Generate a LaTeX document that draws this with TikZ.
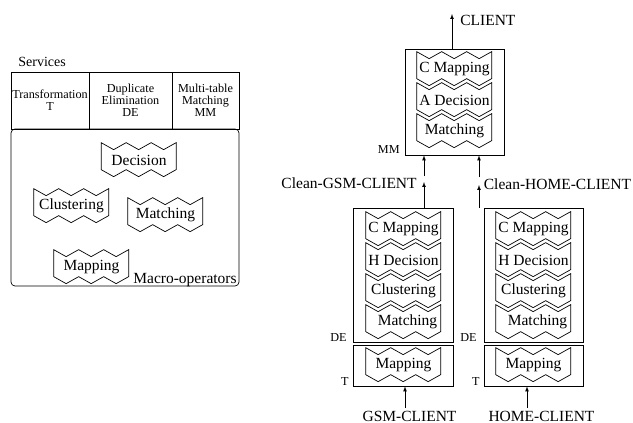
\documentclass[tikz,border=0pt]{standalone}
\usepackage{fontspec}
\setmainfont{Liberation Serif}
\tikzset{
  blk/.style={minimum width=75pt,minimum height=34pt,inner sep=0pt,font=\fontsize{15.5}{18}\selectfont},
  box/.style={draw,inner sep=0pt},
  big/.style={inner sep=0pt,font=\fontsize{15.5}{18}\selectfont},
  small/.style={inner sep=0pt,font=\fontsize{12.2}{12}\selectfont},
}
\begin{document}
\begin{tikzpicture}[x=1pt,y=-1pt,line width=0.7pt,>=latex]
    \useasboundingbox (0,0) rectangle (633,423);
    % services and macro-operators
    \node[anchor=base west,inner sep=0pt,font=\fontsize{14}{14}\selectfont] (services) at (18,66.5) {Services};
    \node[box,small,minimum width=78pt,minimum height=57pt,align=center] (hT) at (50,100.5) {Transformation\\T};
    \node[box,small,minimum width=83pt,minimum height=57pt,align=center] (hDE) at (130.5,100.5) {Duplicate\\Elimination\\DE};
    \node[box,small,minimum width=67pt,minimum height=57pt,align=center] (hMM) at (205.5,100.5) {Multi-table\\Matching\\MM};
    \node[box,rounded corners=4pt,minimum width=228pt,minimum height=157pt] (macro) at (125,207.5) {};
    \node[big,anchor=base east] (macrolbl) at (237,283) {Macro-operators};
    \node[blk] (dec) at (139,160) {Decision};
    \node[blk] (clu) at (71.5,206) {Clustering};
    \node[blk] (mat) at (165.5,215) {Matching};
    \node[blk] (map) at (91.5,267) {Mapping};
    % MM
    \node[box,minimum width=99pt,minimum height=106pt] (mm) at (454.5,102) {};
    \node[blk] (mmC) at (454.5,69) {C Mapping};
    \node[blk] (mmA) at (454.5,100) {A Decision};
    \node[blk] (mmM) at (454.5,131) {Matching};
    \node[small,anchor=base east] (mmlbl) at (400,153) {MM};
    % DE and T, GSM
    \node[box,minimum width=100pt,minimum height=134pt] (deL) at (403,275) {};
    \node[blk] (deLC) at (403.5,229) {C Mapping};
    \node[blk] (deLH) at (403.5,260) {H Decision};
    \node[blk] (deLCl) at (403.5,291) {Clustering};
    \node[blk] (deLM) at (403.5,322) {\hspace*{8pt}Matching};
    \node[small,anchor=base east] (deLlbl) at (347,341) {DE};
    \node[box,minimum width=100pt,minimum height=41pt] (tL) at (403,365.5) {};
    \node[blk] (tLM) at (403.5,365) {Mapping};
    \node[small,anchor=base east] (tLlbl) at (349,385) {T};
    % DE and T, HOME
    \node[box,minimum width=99pt,minimum height=134pt] (deR) at (533.5,275) {};
    \node[blk] (deRC) at (533.5,229) {C Mapping};
    \node[blk] (deRH) at (533.5,260) {H Decision};
    \node[blk] (deRCl) at (533.5,291) {Clustering};
    \node[blk] (deRM) at (533.5,322) {\hspace*{8pt}Matching};
    \node[small,anchor=base east] (deRlbl) at (477,341) {DE};
    \node[box,minimum width=99pt,minimum height=41pt] (tR) at (533.5,365.5) {};
    \node[blk] (tRM) at (533.5,365) {Mapping};
    \node[small,anchor=base east] (tRlbl) at (480,385) {T};
    % flows
    \node[big,anchor=base west] (client) at (460,25) {CLIENT};
    \node[big,anchor=base east] (cleanG) at (417,188.5) {Clean-GSM-CLIENT};
    \node[big,anchor=base west] (cleanH) at (483.5,189.5) {Clean-HOME-CLIENT};
    \node[big,anchor=base] (gsm) at (409.5,421) {GSM-CLIENT};
    \node[big,anchor=base] (home) at (541.5,421) {HOME-CLIENT};
    \coordinate (outC) at (452,14);
    \coordinate (gLo) at (424,182);
    \coordinate (gUp) at (424,176);
    \coordinate (hLo) at (479,185);
    \coordinate (hUp) at (479,177);
    \coordinate (inG) at (405,408);
    \coordinate (inH) at (527,408);
    \draw[->] (outC |- mm.north) -- (outC);
    \draw[->] (gLo |- deL.north) -- (gLo);
    \draw[->] (gUp) -- (gUp |- mm.south);
    \draw[->] (hLo |- deR.north) -- (hLo);
    \draw[->] (hUp) -- (hUp |- mm.south);
    \draw[->] (inG) -- (inG |- tL.south);
    \draw[->] (inH) -- (inH |- tR.south);
    % zigzag outlines
    \foreach \n in {dec,clu,mat,map,mmC,mmA,mmM,deLC,deLH,deLCl,deLM,tLM,deRC,deRH,deRCl,deRM,tRM}
        \draw (\n.north west) -- ++(12.5,7) -- ++(12.5,-7) -- ++(12.5,7) -- ++(12.5,-7) -- ++(12.5,7) -- ++(12.5,-7)
            -- ++(0,27) -- ++(-12.5,7) -- ++(-12.5,-7) -- ++(-12.5,7) -- ++(-12.5,-7) -- ++(-12.5,7) -- ++(-12.5,-7) -- cycle;
\end{tikzpicture}
\end{document}
